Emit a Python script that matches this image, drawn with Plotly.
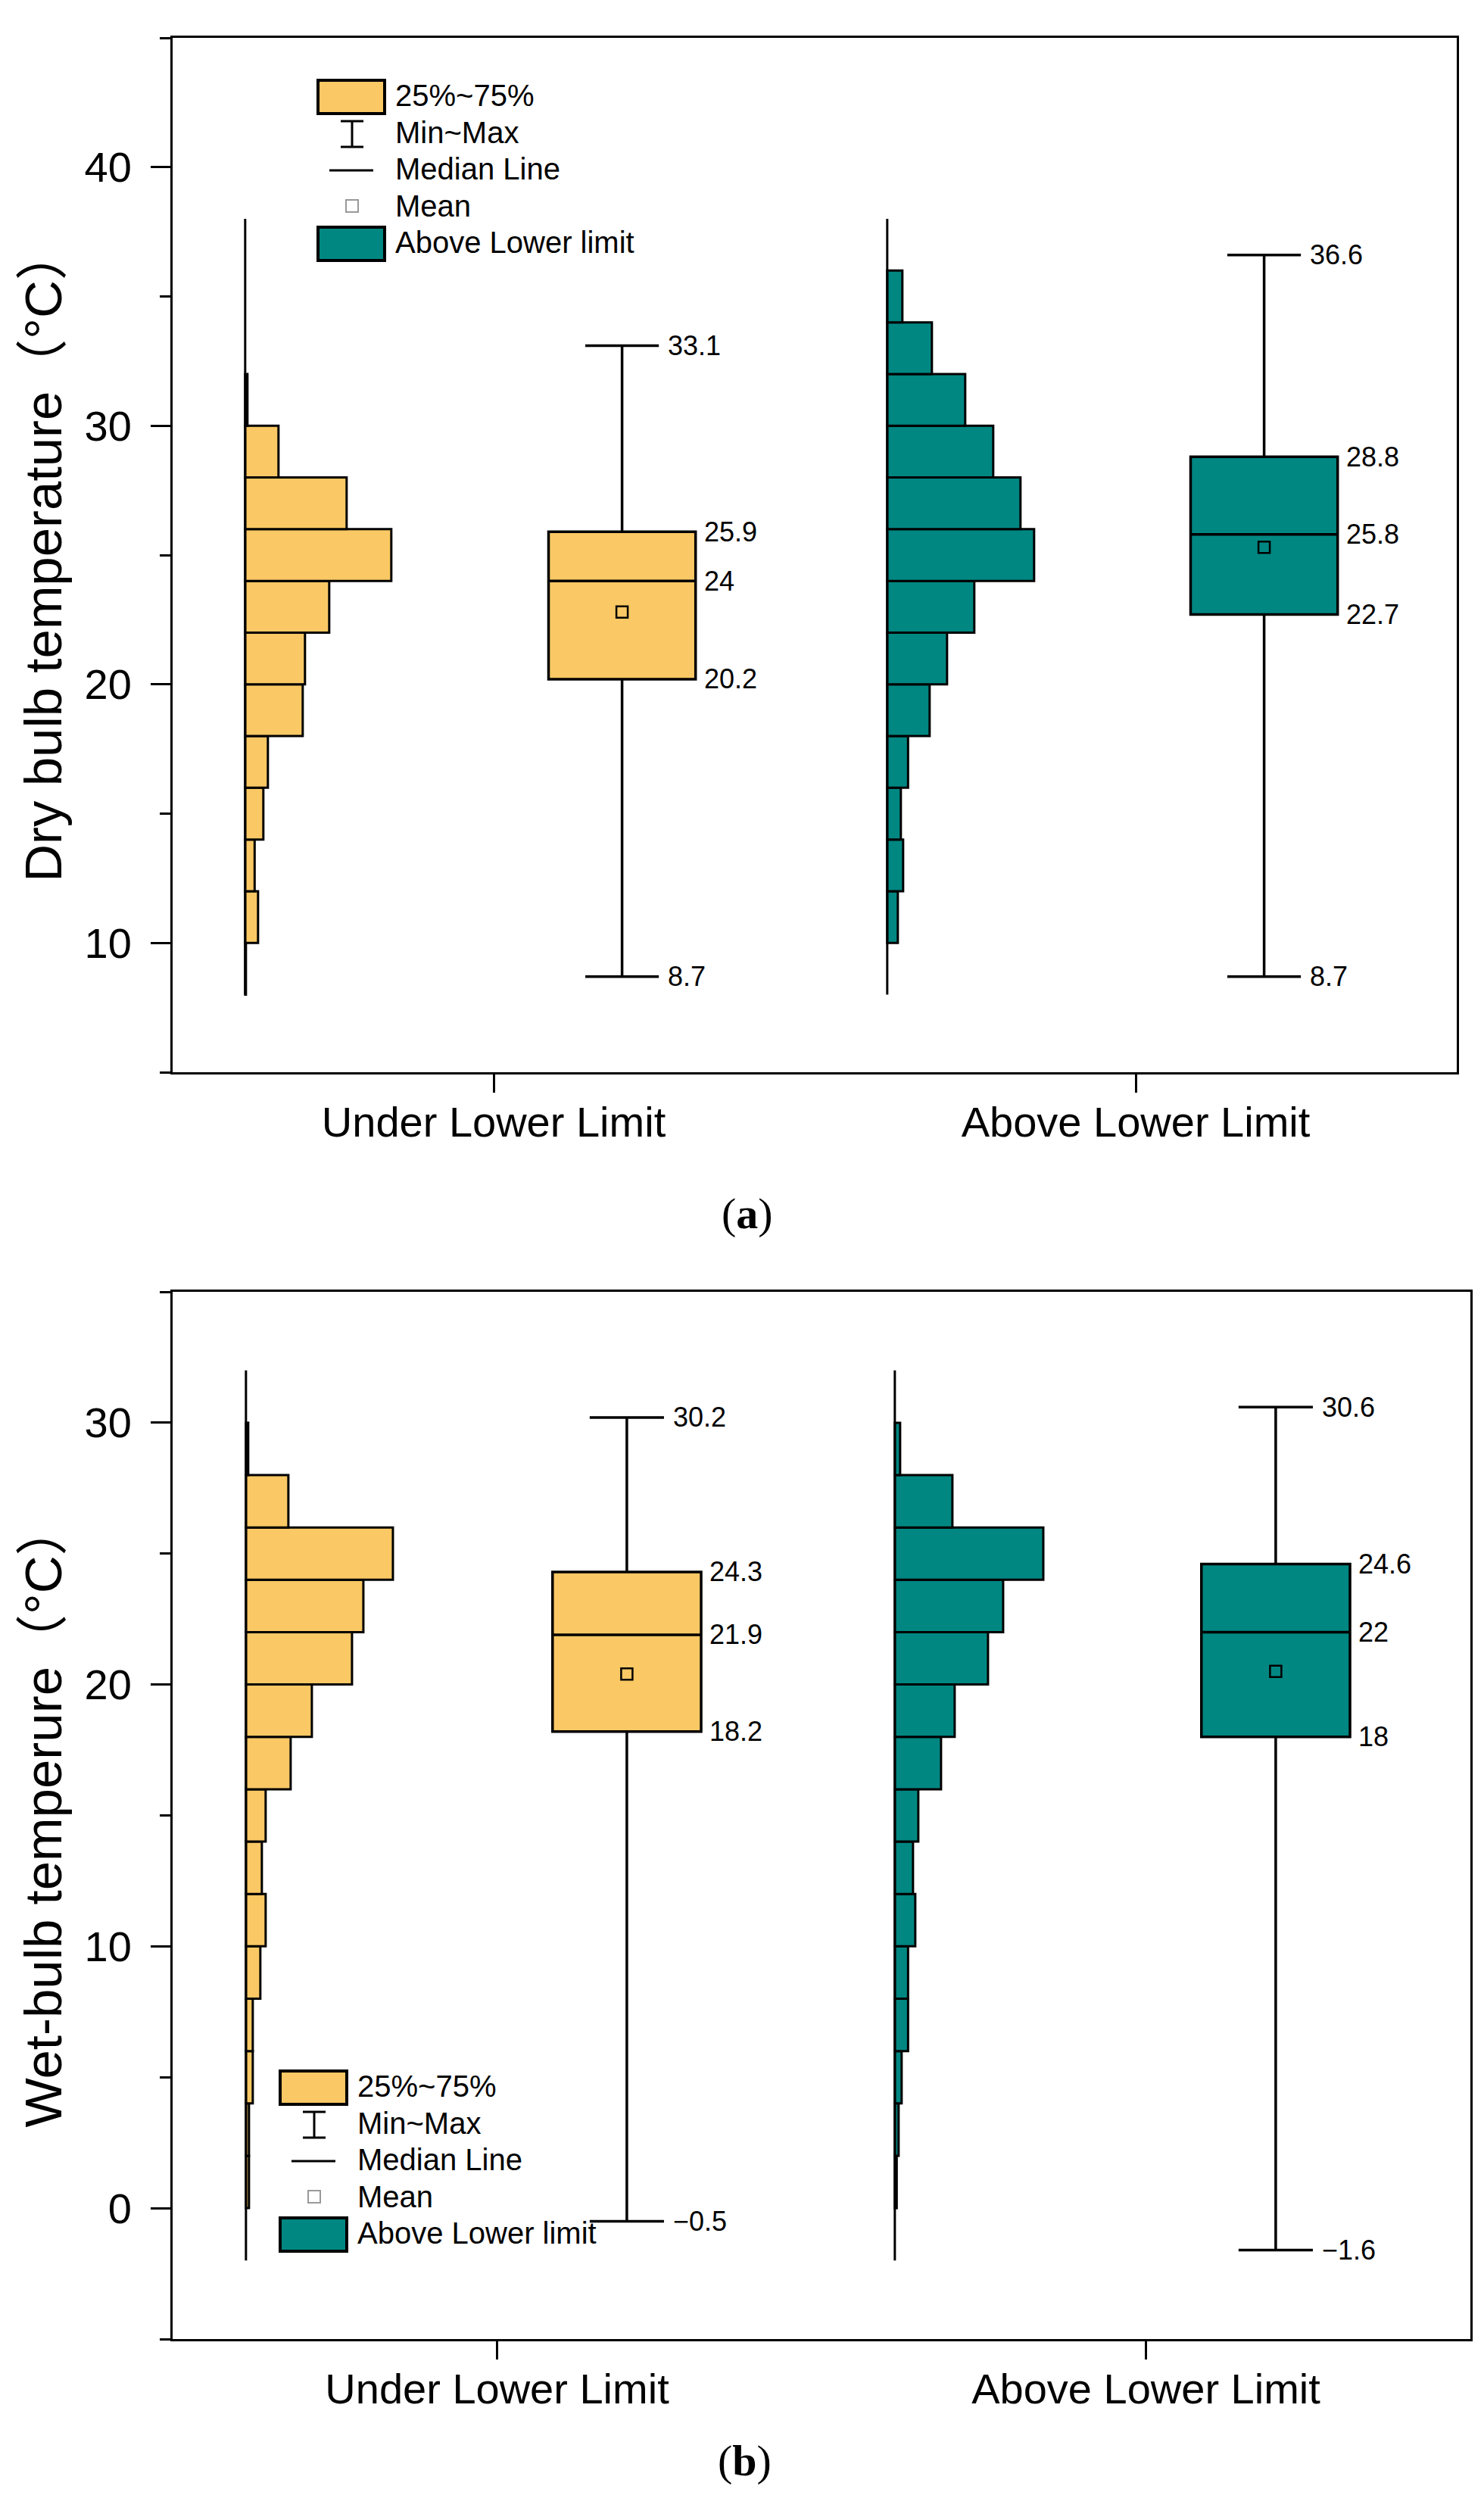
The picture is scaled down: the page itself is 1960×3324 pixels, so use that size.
import plotly.graph_objects as go

W, H = 1960, 3324

# ---- data ----
categories = ["Under Lower Limit", "Above Lower Limit"]
cat_pos = [1, 2]

# histogram bins are 2 degC wide, values are relative counts
dry_under_bins = [9, 11, 13, 15, 17, 19, 21, 23, 25, 27, 29, 31]
dry_under_freq = [1, 17, 12.5, 24, 30, 76, 79, 111, 193, 134, 44, 3]
dry_above_bins = [11, 13, 15, 17, 19, 21, 23, 25, 27, 29, 31, 33, 35]
dry_above_freq = [14, 21, 18, 27.5, 56, 79, 115, 194, 176, 140, 103, 59, 20]
dry_hist_span = [8, 38]

wet_under_bins = [1, 3, 5, 7, 9, 11, 13, 15, 17, 19, 21, 23, 25, 27, 29]
wet_under_freq = [4, 4, 9, 9, 19, 26, 21, 26, 59, 87, 140, 155, 194, 56, 3]
wet_above_bins = [1, 3, 5, 7, 9, 11, 13, 15, 17, 19, 21, 23, 25, 27, 29]
wet_above_freq = [2.5, 5, 9, 17.5, 17.5, 27, 24, 31, 61, 79, 123, 143, 196, 76, 7]
wet_hist_span = [-2, 32]

# box statistics: min, q1, median, q3, max, mean
dry_min = [8.7, 8.7]
dry_q1 = [20.2, 22.7]
dry_med = [24, 25.8]
dry_q3 = [25.9, 28.8]
dry_max = [33.1, 36.6]
dry_mean = [22.8, 25.3]

wet_min = [-0.5, -1.6]
wet_q1 = [18.2, 18]
wet_med = [21.9, 22]
wet_q3 = [24.3, 24.6]
wet_max = [30.2, 30.6]
wet_mean = [20.4, 20.5]

legend_items = ["25%~75%", "Min~Max", "Median Line", "Mean", "Above Lower limit"]

# ---- style ----
YELLOW = "#FAC864"
TEAL = "#008782"
colors = [YELLOW, TEAL]
FONT = "Liberation Sans, Arial, Noto Sans CJK SC"
HIST_OFFSET = -0.387   # histogram baseline relative to category
BOX_OFFSET = 0.2       # box centre relative to category
BOX_WIDTH = 0.229


def fmt(v):
    s = ("%g" % v)
    return s.replace("-", "\u2212")


def px(x):
    return x / W


def py(y):
    return 1 - y / H


fig = go.Figure()
annotations = []
shapes = []


def add_panel(xa, ya, hists, span, scale, mins, q1s, meds, q3s, maxs, means):
    for i, (bins, freq) in enumerate(hists):
        base = cat_pos[i] + HIST_OFFSET
        fig.add_trace(go.Bar(
            y=bins, x=[f * scale for f in freq], base=base, orientation="h",
            width=2, marker=dict(color=colors[i], line=dict(color="black", width=3)),
            xaxis=xa, yaxis=ya, showlegend=False, hoverinfo="skip"))
        fig.add_trace(go.Scatter(
            x=[base, base], y=span, mode="lines", line=dict(color="black", width=3),
            xaxis=xa, yaxis=ya, showlegend=False, hoverinfo="skip"))
        bx = cat_pos[i] + BOX_OFFSET
        fig.add_trace(go.Box(
            x=[bx], q1=[q1s[i]], median=[meds[i]], q3=[q3s[i]],
            lowerfence=[mins[i]], upperfence=[maxs[i]], width=BOX_WIDTH,
            whiskerwidth=0.5, fillcolor=colors[i], line=dict(color="black", width=3.5),
            boxpoints=False, xaxis=xa, yaxis=ya, showlegend=False, hoverinfo="skip"))
        fig.add_trace(go.Scatter(
            x=[bx], y=[means[i]], mode="markers",
            marker=dict(symbol="square", size=15, color=colors[i],
                        line=dict(color="black", width=2.5)),
            xaxis=xa, yaxis=ya, showlegend=False, hoverinfo="skip"))
        # value labels
        for v in (mins[i], maxs[i]):
            annotations.append(dict(x=bx + BOX_WIDTH * 0.25, y=v, xref=xa, yref=ya,
                                    text=fmt(v), showarrow=False, xanchor="left",
                                    yanchor="middle", xshift=10,
                                    font=dict(size=36, color="black", family=FONT)))
        for v in (q1s[i], meds[i], q3s[i]):
            annotations.append(dict(x=bx + BOX_WIDTH / 2, y=v, xref=xa, yref=ya,
                                    text=fmt(v), showarrow=False, xanchor="left",
                                    yanchor="middle", xshift=9,
                                    font=dict(size=36, color="black", family=FONT)))


def add_legend(x0, y0):
    # x0, y0: pixel position of first swatch top-left
    shapes.append(dict(type="rect", xref="paper", yref="paper",
                       x0=px(x0), x1=px(x0 + 88), y0=py(y0), y1=py(y0 + 44),
                       fillcolor=YELLOW, line=dict(color="black", width=4)))
    cx = x0 + 45
    shapes.append(dict(type="line", xref="paper", yref="paper",
                       x0=px(cx), x1=px(cx), y0=py(y0 + 54), y1=py(y0 + 88),
                       line=dict(color="black", width=3)))
    for yy in (y0 + 54, y0 + 88):
        shapes.append(dict(type="line", xref="paper", yref="paper",
                           x0=px(cx - 15), x1=px(cx + 15), y0=py(yy), y1=py(yy),
                           line=dict(color="black", width=3)))
    shapes.append(dict(type="line", xref="paper", yref="paper",
                       x0=px(x0 + 15), x1=px(x0 + 73), y0=py(y0 + 119), y1=py(y0 + 119),
                       line=dict(color="black", width=3)))
    shapes.append(dict(type="rect", xref="paper", yref="paper",
                       x0=px(cx - 8), x1=px(cx + 8), y0=py(y0 + 158), y1=py(y0 + 174),
                       fillcolor="white", line=dict(color="#999999", width=2)))
    shapes.append(dict(type="rect", xref="paper", yref="paper",
                       x0=px(x0), x1=px(x0 + 88), y0=py(y0 + 194), y1=py(y0 + 238),
                       fillcolor=TEAL, line=dict(color="black", width=4)))
    for k, label in enumerate(legend_items):
        annotations.append(dict(x=px(x0 + 100), y=py(y0 + 20 + 48.6 * k),
                                xref="paper", yref="paper", text=label,
                                showarrow=False, xanchor="left", yanchor="middle",
                                font=dict(size=40, color="black", family=FONT)))


add_panel("x", "y", [(dry_under_bins, dry_under_freq), (dry_above_bins, dry_above_freq)],
          dry_hist_span, 1 / 848, dry_min, dry_q1, dry_med, dry_q3, dry_max, dry_mean)
add_panel("x2", "y2", [(wet_under_bins, wet_under_freq), (wet_above_bins, wet_above_freq)],
          wet_hist_span, 1 / 856.5, wet_min, wet_q1, wet_med, wet_q3, wet_max, wet_mean)

add_legend(412, 98)
add_legend(362, 2727)

# panel letters
annotations.append(dict(x=px(979), y=py(1594), xref="paper", yref="paper",
                        text="(<b>a</b>)", showarrow=False,
                        font=dict(size=58, color="black", family="Liberation Serif, Times New Roman")))
annotations.append(dict(x=px(975), y=py(3276), xref="paper", yref="paper",
                        text="(<b>b</b>)", showarrow=False,
                        font=dict(size=58, color="black", family="Liberation Serif, Times New Roman")))

xaxis_style = dict(range=[0.5, 2.5], tickvals=cat_pos, ticktext=categories,
                   ticks="outside", ticklen=24, tickwidth=3, tickcolor="black",
                   showline=True, mirror=True, linewidth=3, linecolor="black",
                   showgrid=False, zeroline=False, ticklabelstandoff=-9,
                   tickfont=dict(size=56, color="black", family=FONT))
yaxis_style = dict(dtick=10, tick0=0, ticks="outside", ticklen=26, tickwidth=3,
                   tickcolor="black", showline=True, mirror=True, linewidth=3,
                   linecolor="black", showgrid=False, zeroline=False, ticklabelstandoff=14,
                   minor=dict(dtick=5, tick0=0, ticks="outside", ticklen=14,
                              tickwidth=3, tickcolor="black"),
                   tickfont=dict(size=56, color="black", family=FONT))
title_font = dict(size=69, color="black", family=FONT)

fig.update_layout(
    width=W, height=H, autosize=False,
    margin=dict(l=0, r=0, t=0, b=0),
    paper_bgcolor="white", plot_bgcolor="white",
    barmode="overlay", showlegend=False,
    xaxis=dict(domain=[px(220), px(1916)], anchor="y", **xaxis_style),
    yaxis=dict(domain=[py(1408), py(42)], anchor="x", range=[5, 45],
               title=dict(text="Dry bulb temperature（°C）", font=title_font, standoff=8),
               **yaxis_style),
    xaxis2=dict(domain=[px(220), px(1934)], anchor="y2", **xaxis_style),
    yaxis2=dict(domain=[py(3081), py(1698)], anchor="x2", range=[-5, 35],
                title=dict(text="Wet-bulb temperure（°C）", font=title_font, standoff=8),
                **yaxis_style),
    annotations=annotations,
    shapes=shapes,
)

fig.write_html("out.html")
